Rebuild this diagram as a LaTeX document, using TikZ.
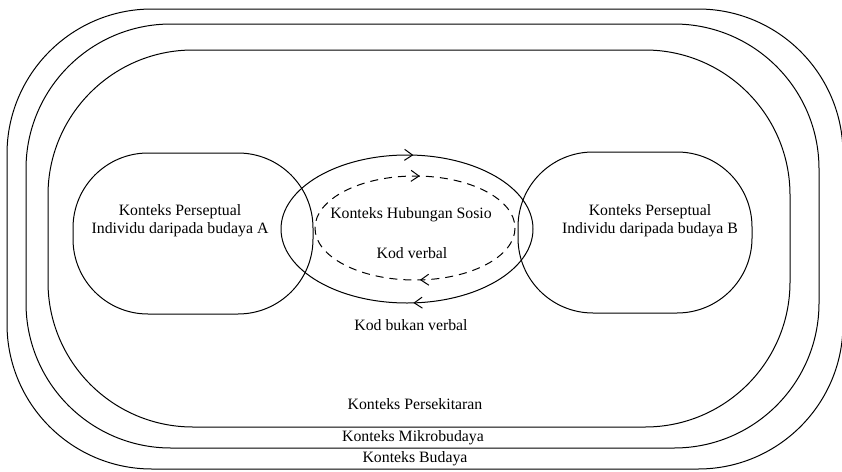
\documentclass[tikz,border=0pt]{standalone}
\usepackage{fontspec}
\setmainfont{Liberation Serif}
\usetikzlibrary{arrows.meta,decorations.markings}
\tikzset{
  lbl/.style={font=\fontsize{15.8}{18}\selectfont,inner sep=0pt,align=center},
  ring/.style={line width=1pt,rounded corners=145},
  persp/.style={line width=1pt,rounded corners=75},
  flow/.style={line width=1pt,postaction={decorate},decoration={markings,
    mark=at position .24 with {\arrow{Straight Barb[length=8pt,width=11pt]}},
    mark=at position .76 with {\arrow{Straight Barb[length=8pt,width=11pt]}}}}
}
\begin{document}
\begin{tikzpicture}[x=1pt,y=-1pt]
\clip (0,0) rectangle (842,471);
\draw[ring] (7,9) rectangle (843,469);
\draw[ring] (26,24) rectangle (819,448);
\draw[ring] (48,50) rectangle (790,427);
\draw[persp] (73,153) rectangle (313,314);
\draw[persp] (518,152) rectangle (752,313);
\draw[flow] (407,229) ellipse [x radius=126,y radius=74];
\draw[flow,dash pattern=on 8pt off 6pt] (415,228) ellipse [x radius=100,y radius=52];
\node[lbl] (persA) at (180,221) {Konteks Perseptual\\Individu daripada budaya A};
\node[lbl] (persB) at (650,221) {Konteks Perseptual\\Individu daripada budaya B};
\node[lbl] (sosio) at (411,215) {Konteks Hubungan Sosio};
\node[lbl] (verbal) at (412,253) {Kod verbal};
\node[lbl] (bukan) at (411,325) {Kod bukan verbal};
\node[lbl] (sekitar) at (415,404) {Konteks Persekitaran};
\node[lbl] (mikro) at (413,438) {Konteks Mikrobudaya};
\node[lbl] (budaya) at (415,459) {Konteks Budaya};
\end{tikzpicture}
\end{document}
